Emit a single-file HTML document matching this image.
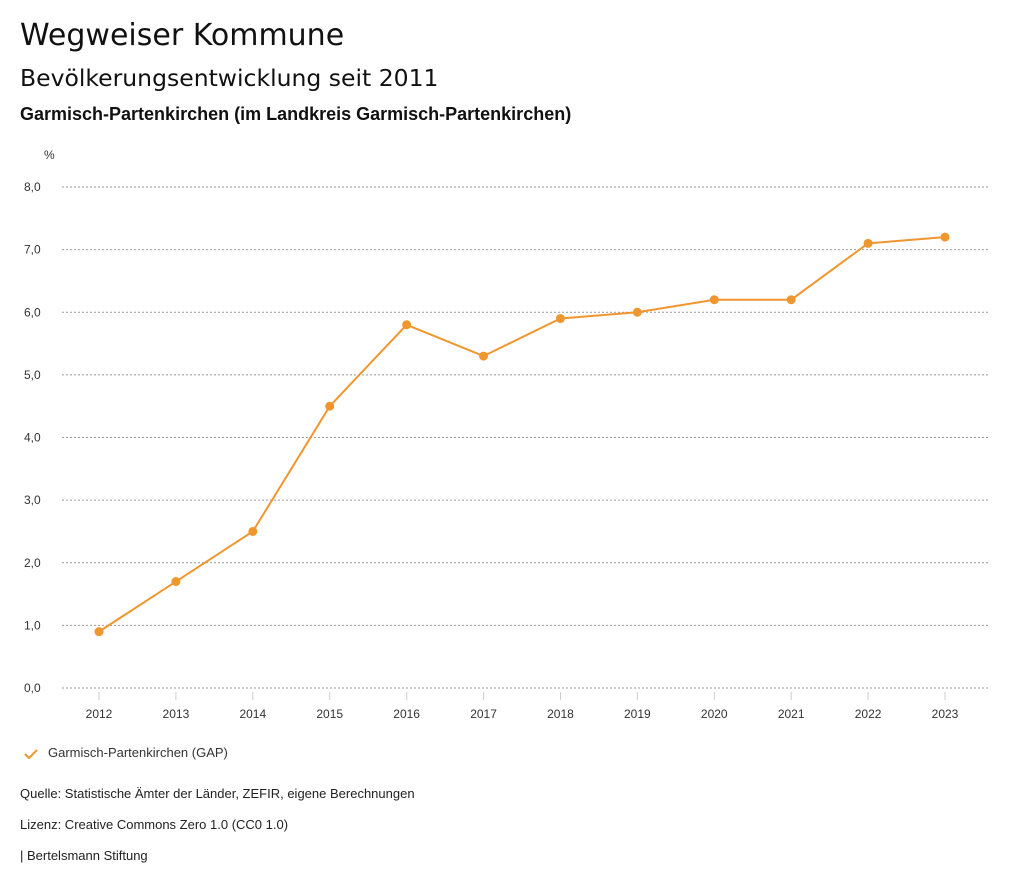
<!DOCTYPE html>
<html><head><meta charset="utf-8"><style>
body{margin:0;background:#fff;font-family:"Liberation Sans",sans-serif;color:#111;}
.t{position:absolute;left:20px;white-space:nowrap;}
</style></head><body>
<div style="position:relative;width:1024px;height:888px;overflow:hidden">
<div class="t" style="top:18px;font-size:30px;font-family:'DejaVu Sans',sans-serif">Wegweiser Kommune</div>
<div class="t" style="top:64px;font-size:23.5px;font-family:'DejaVu Sans',sans-serif">Bevölkerungsentwicklung seit 2011</div>
<div class="t" style="top:104px;font-size:18px;font-weight:bold;color:#111">Garmisch-Partenkirchen (im Landkreis Garmisch-Partenkirchen)</div>
<svg id="c" width="1024" height="888" style="position:absolute;left:0;top:0"></svg>
<div class="t" style="top:745px;left:48px;font-size:13px;color:#333">Garmisch-Partenkirchen (GAP)</div>
<svg style="position:absolute;left:24px;top:748px" width="14" height="12"><path d="M1 6 L5 10 L13 2" stroke="#f0962e" stroke-width="2" fill="none"/></svg>
<div class="t" style="top:786px;font-size:13px;color:#222">Quelle: Statistische Ämter der Länder, ZEFIR, eigene Berechnungen</div>
<div class="t" style="top:817px;font-size:13px;color:#222">Lizenz: Creative Commons Zero 1.0 (CC0 1.0)</div>
<div class="t" style="top:848px;font-size:13px;color:#222">| Bertelsmann Stiftung</div>
</div>
<script>
const years=["2012","2013","2014","2015","2016","2017","2018","2019","2020","2021","2022","2023"];
const values=[0.9,1.7,2.5,4.5,5.8,5.3,5.9,6.0,6.2,6.2,7.1,7.2];
const yTicks=[0,1,2,3,4,5,6,7,8];
const yTickLabels=["0,0","1,0","2,0","3,0","4,0","5,0","6,0","7,0","8,0"];
const svg=document.getElementById('c');const NS="http://www.w3.org/2000/svg";
const x=i=>99+i*(945-99)/(years.length-1);
const y=v=>688-v*(688-187)/8;
function mk(t,a,p){const e=document.createElementNS(NS,t);for(const k in a)e.setAttribute(k,a[k]);(p||svg).appendChild(e);return e;}
let u=mk('text',{x:44,y:159,'font-size':12,fill:'#333'});u.textContent='%';


yTicks.forEach((v,i)=>{
 const l=mk('line',{x1:62,x2:990,y1:y(v),y2:y(v),stroke:'#999','stroke-dasharray':'2,2','stroke-width':1});
 
 
 const t=mk('text',{x:24,y:y(v)+4,'font-size':12,fill:'#333'});t.textContent=yTickLabels[i];
 
 
});
years.forEach((yr,i)=>{
 const l=mk('line',{x1:x(i),x2:x(i),y1:692,y2:700,stroke:'#ccc'});
 
 
 const t=mk('text',{x:x(i),y:718,'font-size':12,fill:'#333','text-anchor':'middle'});t.textContent=yr;
 
 
});
const p=mk('polyline',{points:values.map((v,i)=>x(i)+','+y(v)).join(' '),fill:'none',stroke:'#f0962e','stroke-width':2});


values.forEach((v,i)=>{const c=mk('circle',{cx:x(i),cy:y(v),r:4.5,fill:'#f0962e'});
 
 });
</script>
</body></html>
